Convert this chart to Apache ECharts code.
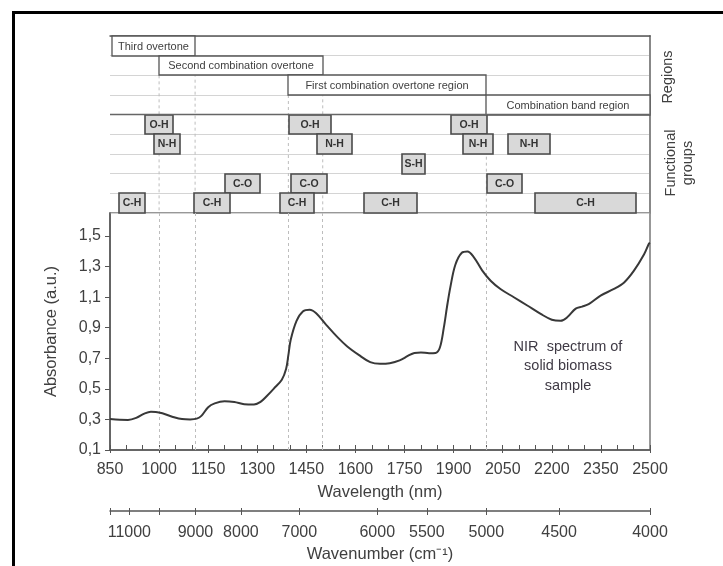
<!DOCTYPE html>
<html><head><meta charset="utf-8">
<script src="https://cdn.jsdelivr.net/npm/echarts@6/dist/echarts.min.js"></script>
<style>html,body{margin:0;padding:0;background:#fff}#c{width:723px;height:566px}</style>
</head><body><div id="c"></div>
<script>
// ---- spectrum data ----
const wavelength = [850,880,905,930,955,975,990,1010,1040,1070,1095,1115,1130,1150,1170,1200,1230,1260,1290,1310,1330,1350,1375,1388,1395,1402,1420,1440,1460,1480,1510,1545,1575,1610,1645,1675,1705,1735,1760,1780,1800,1825,1845,1858,1870,1880,1890,1905,1925,1942,1962,1987,2013,2043,2084,2125,2166,2200,2227,2247,2273,2293,2314,2349,2390,2421,2451,2482,2497,2500];
const absorbance = [0.302,0.298,0.297,0.31,0.338,0.35,0.349,0.34,0.318,0.302,0.300,0.305,0.325,0.38,0.405,0.419,0.414,0.400,0.398,0.415,0.455,0.50,0.56,0.63,0.72,0.82,0.945,1.008,1.018,0.995,0.92,0.838,0.777,0.722,0.675,0.664,0.668,0.686,0.715,0.735,0.738,0.733,0.735,0.77,0.90,1.04,1.165,1.31,1.39,1.398,1.36,1.275,1.207,1.153,1.099,1.045,0.99,0.952,0.945,0.968,1.025,1.038,1.056,1.11,1.153,1.196,1.273,1.38,1.45,1.455];

// ---- axis ticks ----
const yTicks = [0.1,0.3,0.5,0.7,0.9,1.1,1.3,1.5];
const wavenumberTicks = [11000,10000,9000,8000,7000,6000,5500,5000,4500,4000];
const wavenumberLabels = [11000,9000,8000,7000,6000,5500,5000,4500,4000];

// ---- spectral regions (nm) ----
const regionNames = ['Third overtone','Second combination overtone','First combination overtone region','Combination band region'];
const regionStart = [855,1000,1395,2000];
const regionEnd   = [1110,1500,2000,2500];

// ---- functional groups (nm) ----
const groupRows  = ['O-H','N-H','S-H','C-O','C-H'];
const groupLabel = ['O-H','O-H','O-H','N-H','N-H','N-H','N-H','S-H','C-O','C-O','C-O','C-H','C-H','C-H','C-H','C-H'];
const groupStart = [957,1396,1893,985,1482,1928,2066,1743,1202,1404,2002,877,1108,1370,1627,2149];
const groupEnd   = [1042,1525,2002,1064,1590,2020,2194,1814,1307,1513,2110,957,1217,1472,1789,2457];

// ---- region boundaries (dashed guides) ----
const boundaryNm = [1000,1110,1395,1500,2000];
const boundaryStartRow = [2,1,3,2,4];

const FONT = '"Liberation Sans", Arial, sans-serif';
const TXT = '#404040';

const chart = echarts.init(document.getElementById('c'), null, {renderer:'canvas'});

function boxRender(labels, isGroup) {
  return function (params, api) {
    const s = api.value(0), e = api.value(1), r = api.value(2);
    const p0 = api.coord([s, r]), p1 = api.coord([e, r + 1]);
    const x0 = Math.round(p0[0]), x1 = Math.round(p1[0]);
    const y0 = Math.round(p0[1]), y1 = Math.round(p1[1]);
    return {
      type: 'group',
      children: [
        {type:'rect', shape:{x:x0, y:y0, width:x1-x0, height:y1-y0},
         style:{fill: isGroup ? '#d9d9d9' : '#fff', stroke: isGroup ? '#4a4a4a' : '#555', lineWidth: isGroup ? 1.6 : 1.3}},
        {type:'text', style:{text: labels[params.dataIndex], x:(x0+x1)/2, y:(y0+y1)/2+0.5,
          align:'center', verticalAlign:'middle', fill: isGroup ? '#333' : TXT,
          font: (isGroup ? 'bold 10.5px ' : '11px ') + FONT}}
      ]
    };
  };
}

const regionData = regionNames.map((n,i)=>[regionStart[i], regionEnd[i], i]);
const groupData = groupLabel.map((n,i)=>[groupStart[i], groupEnd[i], 4 + groupRows.indexOf(n)]);
const guideData = boundaryNm.map((v,i)=>[v, boundaryStartRow[i]]);

const option = {
  animation: false,
  backgroundColor: '#fff',
  textStyle: {fontFamily: FONT},
  grid: [
    {left:110, right:73, top:213, bottom:116, show:true, borderColor:'#777', borderWidth:1.5, backgroundColor:'transparent'},
    {left:110, right:73, top:36, height:177, show:false}
  ],
  xAxis: [
    {gridIndex:0, type:'value', position:'bottom', min:850, max:2500, interval:150,
     name:'Wavelength (nm)', nameLocation:'middle', nameGap:34,
     nameTextStyle:{fontSize:16.5, color:TXT, fontFamily:FONT},
     axisLine:{onZero:false, lineStyle:{color:'#555', width:1.5}},
     axisTick:{inside:true, length:5, lineStyle:{color:'#555'}},
     minorTick:{show:true, splitNumber:3, length:5, lineStyle:{color:'#555'}},
     axisLabel:{margin:12, fontSize:16, color:TXT, fontFamily:FONT, formatter: v => String(v)},
     splitLine:{show:false}},
    {gridIndex:0, type:'value', position:'bottom', min:850, max:2500, interval:150,
     axisLine:{show:false}, axisTick:{inside:false, length:3, lineStyle:{color:'#555'}},
     axisLabel:{show:false}, splitLine:{show:false}},
    {gridIndex:0, type:'value', position:'bottom', offset:61, min:850, max:2500,
     name:'Wavenumber (cm⁻¹)', nameLocation:'middle', nameGap:35,
     nameTextStyle:{fontSize:16.5, color:TXT, fontFamily:FONT},
     axisLine:{onZero:false, lineStyle:{color:'#555', width:1.5}},
     axisTick:{inside:false, length:4, lineStyle:{color:'#555'},
       customValues: [850].concat(wavenumberTicks.map(w=>1e7/w))},
     axisLabel:{margin:14, fontSize:16, color:TXT, fontFamily:FONT,
       customValues: wavenumberLabels.map(w=>1e7/w),
       formatter: v => String(Math.round(1e7/v/100)*100)},
     splitLine:{show:false}},
    {gridIndex:0, type:'value', position:'bottom', offset:61, min:850, max:2500,
     axisLine:{show:false}, axisLabel:{show:false}, splitLine:{show:false},
     axisTick:{inside:true, length:3, lineStyle:{color:'#555'},
       customValues: [850, 2500].concat(wavenumberTicks.map(w=>1e7/w))}},
    {gridIndex:1, type:'value', position:'top', min:850, max:2500,
     axisLine:{onZero:false, lineStyle:{color:'#555', width:1.5}},
     axisTick:{show:false}, axisLabel:{show:false}, splitLine:{show:false}}
  ],
  yAxis: [
    {gridIndex:0, type:'value', min:0.1, max:1.65,
     name:'Absorbance (a.u.)', nameLocation:'middle', nameGap:50,
     nameTextStyle:{fontSize:16.5, color:TXT, fontFamily:FONT},
     axisLine:{onZero:false, lineStyle:{color:'#555', width:1.5}},
     axisTick:{show:true, inside:false, length:5, lineStyle:{color:'#555'}, customValues:yTicks},
     axisLabel:{margin:9, fontSize:16, color:TXT, fontFamily:FONT, customValues:yTicks,
       formatter: v => v.toFixed(1).replace('.', ',')},
     splitLine:{show:false}},
    {gridIndex:1, type:'value', position:'right', min:0, max:9, interval:1, inverse:true,
     axisLine:{show:true, onZero:false, lineStyle:{color:'#888', width:2}},
     axisTick:{show:false}, axisLabel:{show:false},
     splitLine:{show:true, lineStyle:{color:'#d4d4d4', width:1}}}
  ],
  series: [
    {type:'line', xAxisIndex:0, yAxisIndex:0, data: wavelength.map((w,i)=>[w, absorbance[i]]),
     showSymbol:false, symbol:'none', smooth:0.35,
     lineStyle:{color:'#383838', width:2}, z:5,
     markLine:{silent:true, symbol:'none', label:{show:false},
       lineStyle:{color:'#bdbdbd', type:[3,3], width:1},
       data: boundaryNm.map(v=>({xAxis:v}))}},
    {type:'custom', xAxisIndex:4, yAxisIndex:1, data: guideData, z:1, silent:true,
     renderItem: function (params, api) {
       const a = api.coord([api.value(0), api.value(1)]);
       const b = api.coord([api.value(0), 9]);
       return {type:'line', shape:{x1:a[0], y1:a[1], x2:b[0], y2:b[1]},
         style:{stroke:'#bdbdbd', lineWidth:1, lineDash:[3,3]}};
     },
     markLine:{silent:true, symbol:'none', label:{show:false},
       lineStyle:{color:'#666', type:'solid', width:1.3},
       data:[{yAxis:4}]}},
    {type:'custom', xAxisIndex:4, yAxisIndex:1, data: regionData, z:3, silent:true,
     renderItem: boxRender(regionNames, false)},
    {type:'custom', xAxisIndex:4, yAxisIndex:1, data: groupData, z:3, silent:true,
     renderItem: boxRender(groupLabel, true)}
  ],
  graphic: [
    {type:'rect', shape:{x:12, y:11, width:3, height:555}, style:{fill:'#000'}},
    {type:'rect', shape:{x:12, y:11, width:711, height:3}, style:{fill:'#000'}},
    {type:'text', x:668, y:77, rotation:Math.PI/2,
     style:{text:'Regions', align:'center', verticalAlign:'middle', fill:TXT, font:'14.5px '+FONT}},
    {type:'text', x:679, y:163, rotation:Math.PI/2,
     style:{text:'Functional\ngroups', align:'center', verticalAlign:'middle', lineHeight:17, fill:TXT, font:'14.5px '+FONT}},
    {type:'text', x:568, y:366,
     style:{text:'NIR  spectrum of\nsolid biomass\nsample', align:'center', verticalAlign:'middle', lineHeight:19.5, fill:'#3f3a45', font:'14.5px '+FONT}}
  ]
};
chart.setOption(option);
</script>
</body></html>
